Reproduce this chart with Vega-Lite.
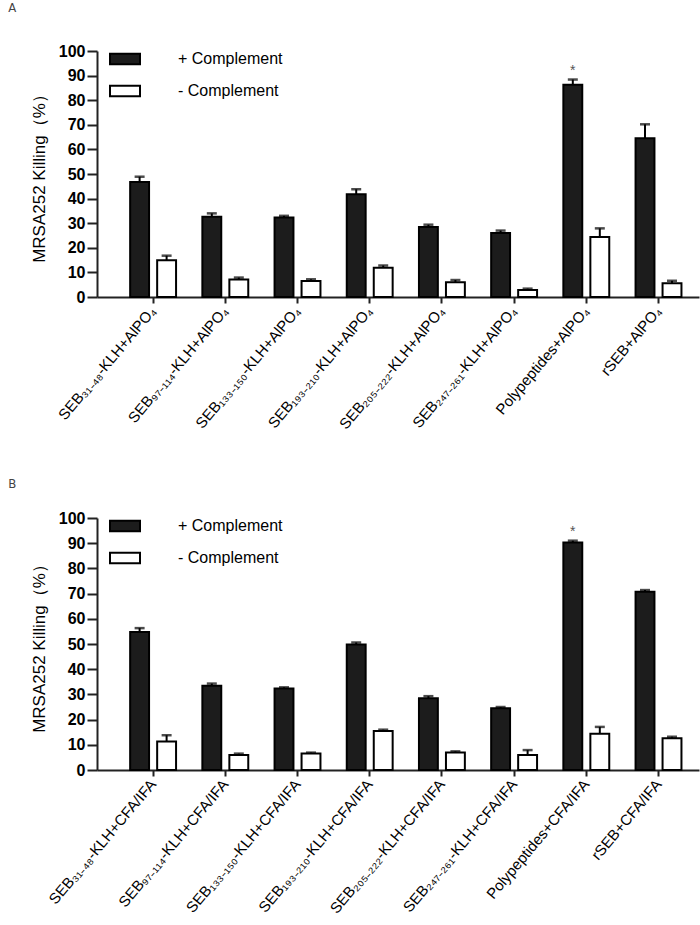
{
  "$schema": "https://vega.github.io/schema/vega-lite/v6.json",
  "padding": {"left": 8, "top": 2, "right": 2, "bottom": 0},
  "config": {
    "view": {"stroke": null},
    "font": "Liberation Sans",
    "axis": {"labelColor": "black", "titleColor": "black", "domainColor": "#222", "tickColor": "#222", "grid": false},
    "axisY": {"labelFontSize": 16, "labelFontWeight": "bold", "titleFontSize": 17, "titleFontWeight": "normal", "titlePadding": 10, "tickSize": 10, "tickWidth": 2, "domainWidth": 2, "labelPadding": 2}
  },
  "datasets": {
    "a": [
      {"group": "SEB₃₁₋₄₈-KLH+AlPO₄", "comp": "+ Complement", "mean": 46.7, "upper": 48.9, "sig": ""},
      {"group": "SEB₃₁₋₄₈-KLH+AlPO₄", "comp": "- Complement", "mean": 14.9, "upper": 16.8, "sig": ""},
      {"group": "SEB₉₇₋₁₁₄-KLH+AlPO₄", "comp": "+ Complement", "mean": 32.6, "upper": 34.0, "sig": ""},
      {"group": "SEB₉₇₋₁₁₄-KLH+AlPO₄", "comp": "- Complement", "mean": 7.1, "upper": 7.9, "sig": ""},
      {"group": "SEB₁₃₃₋₁₅₀-KLH+AlPO₄", "comp": "+ Complement", "mean": 32.3, "upper": 33.0, "sig": ""},
      {"group": "SEB₁₃₃₋₁₅₀-KLH+AlPO₄", "comp": "- Complement", "mean": 6.5, "upper": 7.2, "sig": ""},
      {"group": "SEB₁₉₃₋₂₁₀-KLH+AlPO₄", "comp": "+ Complement", "mean": 41.8, "upper": 43.8, "sig": ""},
      {"group": "SEB₁₉₃₋₂₁₀-KLH+AlPO₄", "comp": "- Complement", "mean": 11.9, "upper": 12.8, "sig": ""},
      {"group": "SEB₂₀₅₋₂₂₂-KLH+AlPO₄", "comp": "+ Complement", "mean": 28.5, "upper": 29.4, "sig": ""},
      {"group": "SEB₂₀₅₋₂₂₂-KLH+AlPO₄", "comp": "- Complement", "mean": 6.0, "upper": 6.9, "sig": ""},
      {"group": "SEB₂₄₇₋₂₆₁-KLH+AlPO₄", "comp": "+ Complement", "mean": 26.0, "upper": 27.0, "sig": ""},
      {"group": "SEB₂₄₇₋₂₆₁-KLH+AlPO₄", "comp": "- Complement", "mean": 2.8, "upper": 3.4, "sig": ""},
      {"group": "Polypeptides+AlPO₄", "comp": "+ Complement", "mean": 86.3, "upper": 88.4, "sig": "*"},
      {"group": "Polypeptides+AlPO₄", "comp": "- Complement", "mean": 24.4, "upper": 27.9, "sig": ""},
      {"group": "rSEB+AlPO₄", "comp": "+ Complement", "mean": 64.5, "upper": 70.2, "sig": ""},
      {"group": "rSEB+AlPO₄", "comp": "- Complement", "mean": 5.6, "upper": 6.6, "sig": ""}
    ],
    "b": [
      {"group": "SEB₃₁₋₄₈-KLH+CFA/IFA", "comp": "+ Complement", "mean": 54.8, "upper": 56.3, "sig": ""},
      {"group": "SEB₃₁₋₄₈-KLH+CFA/IFA", "comp": "- Complement", "mean": 11.3, "upper": 13.8, "sig": ""},
      {"group": "SEB₉₇₋₁₁₄-KLH+CFA/IFA", "comp": "+ Complement", "mean": 33.4, "upper": 34.3, "sig": ""},
      {"group": "SEB₉₇₋₁₁₄-KLH+CFA/IFA", "comp": "- Complement", "mean": 6.0, "upper": 6.5, "sig": ""},
      {"group": "SEB₁₃₃₋₁₅₀-KLH+CFA/IFA", "comp": "+ Complement", "mean": 32.3, "upper": 32.8, "sig": ""},
      {"group": "SEB₁₃₃₋₁₅₀-KLH+CFA/IFA", "comp": "- Complement", "mean": 6.5, "upper": 6.9, "sig": ""},
      {"group": "SEB₁₉₃₋₂₁₀-KLH+CFA/IFA", "comp": "+ Complement", "mean": 49.8, "upper": 50.6, "sig": ""},
      {"group": "SEB₁₉₃₋₂₁₀-KLH+CFA/IFA", "comp": "- Complement", "mean": 15.5, "upper": 16.0, "sig": ""},
      {"group": "SEB₂₀₅₋₂₂₂-KLH+CFA/IFA", "comp": "+ Complement", "mean": 28.5, "upper": 29.3, "sig": ""},
      {"group": "SEB₂₀₅₋₂₂₂-KLH+CFA/IFA", "comp": "- Complement", "mean": 6.9, "upper": 7.4, "sig": ""},
      {"group": "SEB₂₄₇₋₂₆₁-KLH+CFA/IFA", "comp": "+ Complement", "mean": 24.5, "upper": 25.0, "sig": ""},
      {"group": "SEB₂₄₇₋₂₆₁-KLH+CFA/IFA", "comp": "- Complement", "mean": 6.0, "upper": 7.9, "sig": ""},
      {"group": "Polypeptides+CFA/IFA", "comp": "+ Complement", "mean": 90.3, "upper": 91.0, "sig": "*"},
      {"group": "Polypeptides+CFA/IFA", "comp": "- Complement", "mean": 14.4, "upper": 17.1, "sig": ""},
      {"group": "rSEB+CFA/IFA", "comp": "+ Complement", "mean": 70.7, "upper": 71.4, "sig": ""},
      {"group": "rSEB+CFA/IFA", "comp": "- Complement", "mean": 12.6, "upper": 13.2, "sig": ""}
    ]
  },
  "spacing": 46,
  "resolve": {
    "scale": {"x": "independent", "y": "independent", "xOffset": "independent", "fill": "independent"},
    "axis": {"x": "independent", "y": "independent"},
    "legend": {"fill": "independent"}
  },
  "vconcat": [
    {
      "title": {"text": "A", "anchor": "start", "frame": "bounds", "fontSize": 13, "font": "DejaVu Sans Condensed", "fontWeight": "normal", "color": "#444", "offset": 28, "dx": -22},
      "width": 602,
      "height": 246,
      "data": {"name": "a"},
      "encoding": {
        "x": {
          "field": "group", "type": "nominal", "sort": null,
          "scale": {"paddingInner": 0, "paddingOuter": 0.169, "align": 0.82},
          "axis": {"title": null, "labelAngle": -50, "labelFontSize": 15, "labelPadding": 5, "tickSize": 6, "tickWidth": 2, "domainWidth": 2, "labelLimit": 300}
        },
        "xOffset": {"field": "comp", "sort": ["+ Complement", "- Complement"], "scale": {"paddingInner": 0.3, "paddingOuter": 0.487}},
        "y": {
          "field": "mean", "type": "quantitative", "scale": {"domain": [0, 100], "nice": false},
          "title": "MRSA252 Killing（%）",
          "axis": {"tickMinStep": 10, "tickCount": 11, "labelOverlap": false, "labelSeparation": 0, "labelLineHeight": 12}
        }
      },
      "layer": [
        {
          "mark": {"type": "bar", "stroke": "black", "strokeWidth": 2},
          "encoding": {
            "fill": {
              "field": "comp", "type": "nominal",
              "scale": {"domain": ["+ Complement", "- Complement"], "range": ["#1c1c1c", "white"]},
              "legend": {"orient": "none", "legendX": 12, "legendY": -8, "title": null, "symbolType": "M-1,-0.35H1V0.35H-1Z", "symbolSize": 900, "symbolStrokeColor": "black", "symbolStrokeWidth": 2, "labelFontSize": 16, "labelOffset": 37, "rowPadding": 6, "labelColor": "black"}
            }
          }
        },
        {
          "mark": {"type": "rule", "strokeWidth": 2, "color": "black"},
          "encoding": {"y2": {"field": "upper"}}
        },
        {
          "mark": {"type": "tick", "thickness": 2.5, "size": 10, "color": "black"},
          "encoding": {"y": {"field": "upper", "type": "quantitative"}}
        },
        {
          "transform": [{"filter": "datum.sig != ''"}],
          "mark": {"type": "text", "dy": -9, "fontSize": 14, "color": "#555", "baseline": "middle"},
          "encoding": {"y": {"field": "upper", "type": "quantitative"}, "text": {"field": "sig"}}
        }
      ]
    },
    {
      "title": {"text": "B", "anchor": "start", "frame": "bounds", "fontSize": 13, "font": "DejaVu Sans Condensed", "fontWeight": "normal", "color": "#444", "offset": 19, "dx": -22},
      "width": 602,
      "height": 252,
      "data": {"name": "b"},
      "encoding": {
        "x": {
          "field": "group", "type": "nominal", "sort": null,
          "scale": {"paddingInner": 0, "paddingOuter": 0.169, "align": 0.82},
          "axis": {"title": null, "labelAngle": -50, "labelFontSize": 15, "labelPadding": 5, "tickSize": 6, "tickWidth": 2, "domainWidth": 2, "labelLimit": 300}
        },
        "xOffset": {"field": "comp", "sort": ["+ Complement", "- Complement"], "scale": {"paddingInner": 0.3, "paddingOuter": 0.487}},
        "y": {
          "field": "mean", "type": "quantitative", "scale": {"domain": [0, 100], "nice": false},
          "title": "MRSA252 Killing（%）",
          "axis": {"tickMinStep": 10, "tickCount": 11, "labelOverlap": false, "labelSeparation": 0, "labelLineHeight": 12}
        }
      },
      "layer": [
        {
          "mark": {"type": "bar", "stroke": "black", "strokeWidth": 2},
          "encoding": {
            "fill": {
              "field": "comp", "type": "nominal",
              "scale": {"domain": ["+ Complement", "- Complement"], "range": ["#1c1c1c", "white"]},
              "legend": {"orient": "none", "legendX": 12, "legendY": -8, "title": null, "symbolType": "M-1,-0.35H1V0.35H-1Z", "symbolSize": 900, "symbolStrokeColor": "black", "symbolStrokeWidth": 2, "labelFontSize": 16, "labelOffset": 37, "rowPadding": 6, "labelColor": "black"}
            }
          }
        },
        {
          "mark": {"type": "rule", "strokeWidth": 2, "color": "black"},
          "encoding": {"y2": {"field": "upper"}}
        },
        {
          "mark": {"type": "tick", "thickness": 2.5, "size": 10, "color": "black"},
          "encoding": {"y": {"field": "upper", "type": "quantitative"}}
        },
        {
          "transform": [{"filter": "datum.sig != ''"}],
          "mark": {"type": "text", "dy": -9, "fontSize": 14, "color": "#555", "baseline": "middle"},
          "encoding": {"y": {"field": "upper", "type": "quantitative"}, "text": {"field": "sig"}}
        }
      ]
    }
  ]
}
